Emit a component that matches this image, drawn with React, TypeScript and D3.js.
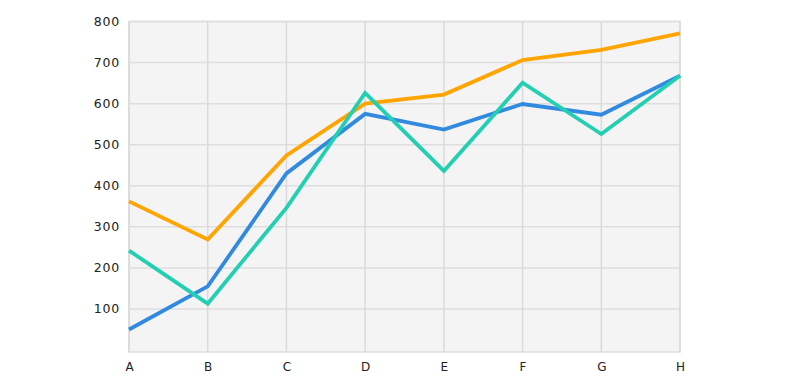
import React, { useRef, useEffect } from 'react';
import * as d3 from 'd3';

const categories = ['A', 'B', 'C', 'D', 'E', 'F', 'G', 'H'];
const orangeValues = [362, 269, 474, 600, 622, 706, 731, 771];
const blueValues = [50, 155, 430, 575, 537, 599, 573, 668];
const tealValues = [242, 113, 346, 626, 436, 651, 526, 668];
const yTicks = [100, 200, 300, 400, 500, 600, 700, 800];

const series = [
  { name: 'orange', values: orangeValues, color: '#ffa400' },
  { name: 'blue', values: blueValues, color: '#318ae0' },
  { name: 'teal', values: tealValues, color: '#22cfb3' },
];

const App: React.FC = () => {
  const svgRef = useRef<SVGSVGElement | null>(null);

  useEffect(() => {
    if (!svgRef.current) return;
    const svg = d3.select(svgRef.current);
    svg.selectAll('*').remove();

    const width = 790;
    const height = 388;
    const margin = { top: 21.5, right: 110, bottom: 36, left: 129 };
    const innerWidth = width - margin.left - margin.right;
    const innerHeight = height - margin.top - margin.bottom;

    const x = d3.scalePoint<string>().domain(categories).range([0, innerWidth]);
    const y = d3.scaleLinear().domain([0, 800]).range([innerHeight - 2, 0]);

    const chart = svg.append('g').attr('transform', `translate(${margin.left},${margin.top})`);

    // plot background
    chart.append('rect')
      .attr('width', innerWidth)
      .attr('height', innerHeight)
      .attr('fill', '#f4f4f4')
      .attr('stroke', '#dedede')
      .attr('stroke-width', 1.5);

    // grid
    chart.append('g')
      .selectAll('line')
      .data(yTicks)
      .join('line')
      .attr('x1', 0)
      .attr('x2', innerWidth)
      .attr('y1', d => y(d))
      .attr('y2', d => y(d))
      .attr('stroke', '#dedede')
      .attr('stroke-width', 1.5);

    chart.append('g')
      .selectAll('line')
      .data(categories)
      .join('line')
      .attr('x1', d => x(d)!)
      .attr('x2', d => x(d)!)
      .attr('y1', 0)
      .attr('y2', innerHeight)
      .attr('stroke', '#dadada')
      .attr('stroke-width', 1.5);

    // axes labels
    const yAxis = chart.append('g')
      .call(d3.axisLeft(y).tickValues(yTicks).tickSize(0).tickPadding(9));
    yAxis.select('.domain').remove();
    yAxis.selectAll('text')
      .style('fill', '#222')
      .style('font-size', '12.5px')
      .style('letter-spacing', '0.8px')
      .style('font-family', '"DejaVu Sans", sans-serif')
      .attr('dy', '0.32em');

    const xAxis = chart.append('g')
      .attr('transform', `translate(0,${innerHeight})`)
      .call(d3.axisBottom(x).tickSize(0).tickPadding(10));
    xAxis.select('.domain').remove();
    xAxis.selectAll('text')
      .style('fill', '#222')
      .style('font-size', '12px')
      .style('font-family', '"DejaVu Sans", sans-serif');

    // lines
    const line = d3.line<number>()
      .x((_, i) => x(categories[i])!)
      .y(d => y(d));

    chart.append('g')
      .selectAll('path')
      .data(series)
      .join('path')
      .attr('d', d => line(d.values))
      .attr('fill', 'none')
      .attr('stroke', d => d.color)
      .attr('stroke-width', 3.8)
      .attr('stroke-linejoin', 'miter');
  }, []);

  return <svg ref={svgRef} width={790} height={388} style={{ display: 'block', position: 'absolute', left: 0, top: 0 }}></svg>;
};

export default App;
